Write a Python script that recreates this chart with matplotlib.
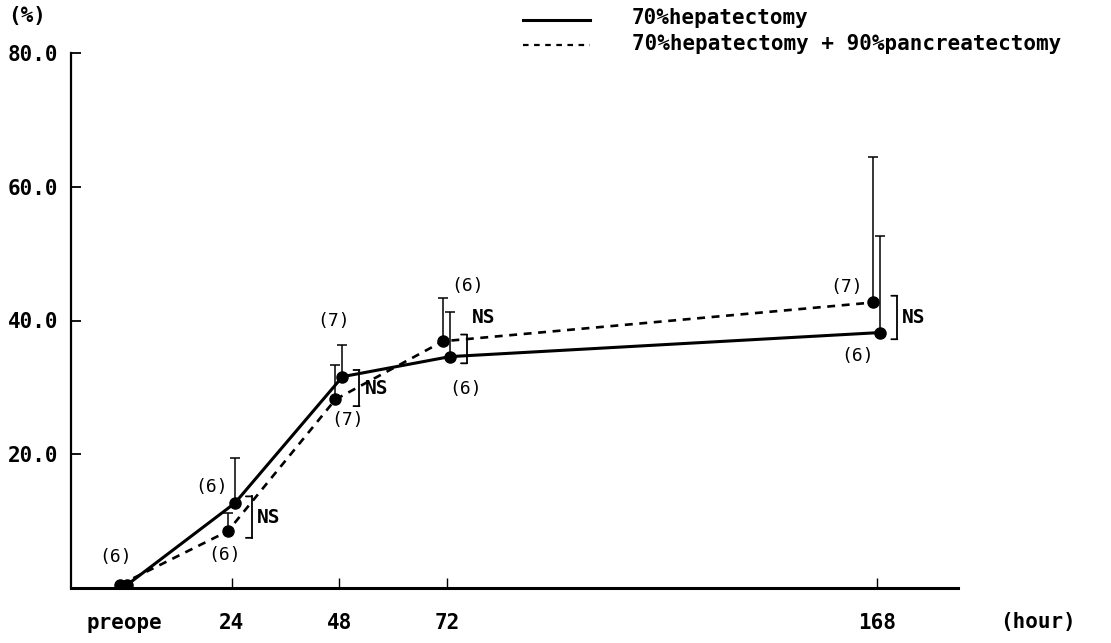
import matplotlib
matplotlib.use('Agg')
import matplotlib.pyplot as plt
import matplotlib.transforms as mtransforms
from matplotlib.lines import Line2D

# ── data ─────────────────────────────────────────────────────
hours = [0, 24, 48, 72, 168]
tick_labels = ['preope', '24', '48', '72', '168']
y_ticks = [20, 40, 60, 80]

hep_mean = [0.5, 12.7, 31.6, 34.6, 38.2]
hep_sd = [0.0, 6.8, 4.7, 6.6, 14.5]
hep_n = [6, 6, 7, 6, 6]

panc_mean = [0.5, 8.5, 28.2, 36.9, 42.7]
panc_sd = [0.0, 2.7, 5.1, 6.4, 21.8]
panc_n = [None, 6, 7, 6, 7]

ns_hours = [24, 48, 72, 168]
ns_text = 'NS'

legend_labels = ['70%hepatectomy', '70%hepatectomy + 90%pancreatectomy']

# ── style ────────────────────────────────────────────────────
MONO = 'DejaVu Sans Mono'
hep_lab_off = [(-12, 28), (-23, 16), (-9, 56), (16, -32), (-23, -23)]
panc_lab_off = [None, (-3, -24), (12, -21), (25, 55), (-27, 15)]
ns_off = {24: (0, 0), 48: (0, 0), 72: (0, 31), 168: (0, 0)}

fig = plt.figure(figsize=(11.11, 6.43), dpi=100)
ax = fig.add_axes([71 / 1111, 1 - 588 / 643, (958 - 71) / 1111, (588 - 53) / 643])

# the two series sit a few pixels apart at each time point
tr_hep = mtransforms.offset_copy(ax.transData, fig=fig, x=3, y=0, units='dots')
tr_panc = mtransforms.offset_copy(ax.transData, fig=fig, x=-4, y=0, units='dots')
tr_br = mtransforms.offset_copy(ax.transData, fig=fig, x=20, y=0, units='dots')

# lines + points
ax.plot(hours, hep_mean, '-', color='black', lw=2.2, marker='o', ms=8,
        transform=tr_hep, zorder=3)
ax.plot(hours, panc_mean, color='black', lw=1.9, ls=(0, (3, 2.5)), marker='o',
        ms=8, transform=tr_panc, zorder=3)

# upward error bars only
for h, m, s in zip(hours, hep_mean, hep_sd):
    if s > 0:
        ax.errorbar([h], [m], yerr=[[0], [s]], fmt='none', ecolor='black',
                    elinewidth=1.1, capsize=3.5, capthick=1.1, transform=tr_hep)
for h, m, s in zip(hours, panc_mean, panc_sd):
    if s > 0:
        ax.errorbar([h], [m], yerr=[[0], [s]], fmt='none', ecolor='black',
                    elinewidth=1.1, capsize=3.5, capthick=1.1, transform=tr_panc)

# n labels
for h, m, n, off in zip(hours, hep_mean, hep_n, hep_lab_off):
    if n is not None:
        ax.annotate(f'({n})', (h, m), xycoords=tr_hep, xytext=off,
                    textcoords='offset pixels', ha='center', va='center',
                    fontsize=13, family=MONO)
for h, m, n, off in zip(hours, panc_mean, panc_n, panc_lab_off):
    if n is not None:
        ax.annotate(f'({n})', (h, m), xycoords=tr_panc, xytext=off,
                    textcoords='offset pixels', ha='center', va='center',
                    fontsize=13, family=MONO)

# NS brackets
for h in ns_hours:
    i = hours.index(h)
    lo = min(hep_mean[i], panc_mean[i]) - 1.0
    hi = max(hep_mean[i], panc_mean[i]) + 1.0
    ax.plot([h, h], [lo, hi], color='black', lw=1.3, transform=tr_br)
    for yy in (lo, hi):
        ax.annotate('', (h, yy), xycoords=tr_br, xytext=(-6, 0),
                    textcoords='offset pixels',
                    arrowprops=dict(arrowstyle='-', color='black', lw=1.3,
                                    shrinkA=0, shrinkB=0))
    dx, dy = ns_off[h]
    ax.annotate(ns_text, (h, (lo + hi) / 2), xycoords=tr_br, xytext=(5 + dx, dy),
                textcoords='offset pixels', ha='left', va='center',
                fontsize=14, family=MONO, fontweight='bold')

# axes
ax.set_xlim(-11.9, 186)
ax.set_ylim(0, 80)
ax.spines['top'].set_visible(False)
ax.spines['right'].set_visible(False)
ax.spines['left'].set_linewidth(1.6)
ax.spines['bottom'].set_linewidth(2.2)

ax.set_xticks(hours)
ax.set_xticklabels(tick_labels, family=MONO, fontsize=15, fontweight='bold')
ax.tick_params(axis='x', direction='in', length=7, width=1, pad=18)
ax.xaxis.get_major_ticks()[0].tick1line.set_visible(False)

ax.set_yticks(y_ticks)
ax.set_yticklabels([f'{v:.1f}' for v in y_ticks], family=MONO, fontsize=15,
                   fontweight='bold')
ax.tick_params(axis='y', direction='in', length=7, width=1.3, pad=9)

fig.text(8 / 1111, 1 - 16 / 643, '(%)', family=MONO, fontsize=15,
         fontweight='bold', ha='left', va='center')
fig.text(1000 / 1111, 1 - 622 / 643, '(hour)', family=MONO, fontsize=15,
         fontweight='bold', ha='left', va='center')

# legend (drawn by hand, top right)
fig.add_artist(Line2D([523 / 1111, 590 / 1111], [1 - 20 / 643, 1 - 20 / 643],
                      color='black', lw=2.2))
fig.add_artist(Line2D([523 / 1111, 590 / 1111], [1 - 45 / 643, 1 - 45 / 643],
                      color='black', lw=1.6, ls=(0, (2.5, 2.5))))
fig.text(632 / 1111, 1 - 18 / 643, legend_labels[0], family=MONO, fontsize=15,
         fontweight='bold', ha='left', va='center')
fig.text(632 / 1111, 1 - 44 / 643, legend_labels[1], family=MONO, fontsize=15,
         fontweight='bold', ha='left', va='center')

fig.savefig('out.png', dpi=100)
